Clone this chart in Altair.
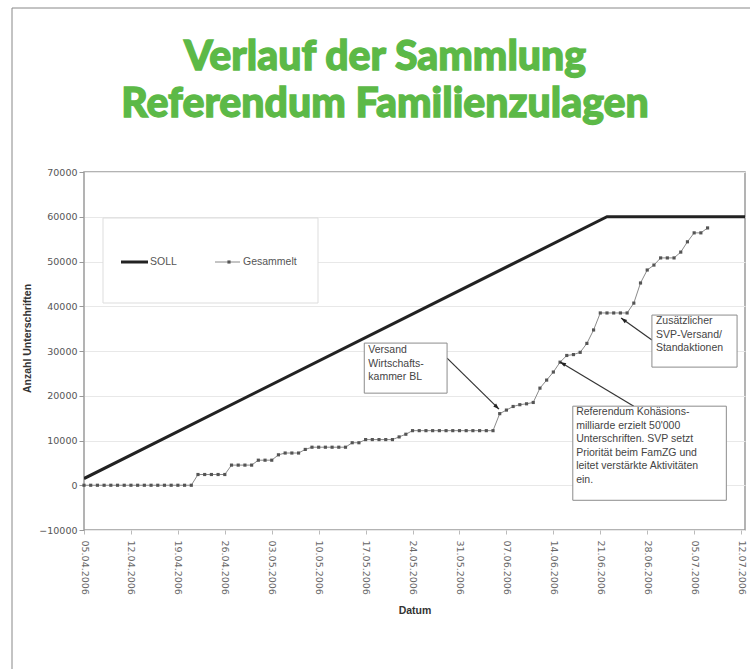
import altair as alt
import pandas as pd

# ---------------- data ----------------
start_date = "2006-04-05"

# "Gesammelt" – cumulative signatures, one value per day starting 05.04.2006
gesammelt = [
    0, 0, 0, 0, 0, 0, 0, 0, 0, 0, 0, 0, 0, 0, 0, 0, 0,
    2400, 2400, 2400, 2400, 2400,
    4500, 4500, 4500, 4500,
    5600, 5600, 5600,
    6800, 7200, 7200, 7200,
    8000, 8500, 8500, 8500, 8500, 8500, 8500,
    9500, 9500,
    10200, 10200, 10200, 10200, 10200,
    10800, 11400,
    12200, 12200, 12200, 12200, 12200, 12200, 12200, 12200, 12200, 12200, 12200, 12200, 12200,
    16000, 16800, 17600, 18000, 18200, 18500,
    21700, 23500, 25300, 27500,
    29000, 29200, 29700, 31700, 34700,
    38500, 38500, 38500, 38500, 38500,
    40700, 45200, 48100, 49200,
    50800, 50800, 50800,
    52100, 54400, 56400, 56400, 57500,
]

# "SOLL" – target line
soll_dates = ["2006-04-05", "2006-06-22", "2006-07-13"]
soll_values = [1500, 60000, 60000]

# axis ticks
x_tick_dates = ["2006-04-05", "2006-04-12", "2006-04-19", "2006-04-26", "2006-05-03",
                "2006-05-10", "2006-05-17", "2006-05-24", "2006-05-31", "2006-06-07",
                "2006-06-14", "2006-06-21", "2006-06-28", "2006-07-05", "2006-07-12"]
y_ticks = [-10000, 0, 10000, 20000, 30000, 40000, 50000, 60000, 70000]

title_lines = ["Verlauf der Sammlung", "Referendum Familienzulagen"]
legend_labels = ["SOLL", "Gesammelt"]

# annotations (day offset from start, value)
ann_texts = [
    "Versand\nWirtschafts-\nkammer BL",
    "Referendum Kohäsions-\nmilliarde erzielt 50'000\nUnterschriften. SVP setzt\nPriorität beim FamZG und\nleitet verstärkte Aktivitäten\nein.",
    "Zusätzlicher\nSVP-Versand/\nStandaktionen",
]
ann_text_day = [42.4, 73.4, 85.3]
ann_text_val = [31300, 17450, 37810]
box_day1 = [41.8, 72.9, 84.7]
box_day2 = [54.15, 95.8, 97.4]
box_val1 = [31770, 17670, 38030]
box_val2 = [20580, -3360, 26400]
arrow_tail_day = [54.15, 82.0, 84.7]
arrow_tail_val = [28410, 17670, 32440]
arrow_tip_day = [61.9, 71.0, 80.1]
arrow_tip_val = [17000, 27520, 37360]
arrow_angle = [134, 300, 306]

# ---------------- tables ----------------
base = pd.Timestamp(start_date)


def ts(day):
    return (base + pd.Timedelta(days=day)).strftime("%Y-%m-%dT%H:%M:%SZ")


df_g = pd.DataFrame({
    "date": pd.date_range(start_date, periods=len(gesammelt), freq="D").strftime("%Y-%m-%d"),
    "value": gesammelt,
})
df_s = pd.DataFrame({"date": soll_dates, "value": soll_values})
df_box = pd.DataFrame({
    "date": [ts(d) for d in box_day1], "d2": [ts(d) for d in box_day2],
    "value": box_val1, "v2": box_val2,
})
df_txt = pd.DataFrame({"date": [ts(d) for d in ann_text_day], "value": ann_text_val, "text": ann_texts})
df_arr = pd.DataFrame({
    "date": [ts(d) for d in arrow_tail_day], "d2": [ts(d) for d in arrow_tip_day],
    "value": arrow_tail_val, "v2": arrow_tip_val, "angle": arrow_angle,
})


def dt(s):
    t = pd.Timestamp(s)
    return alt.DateTime(year=t.year, month=t.month, date=t.day, utc=True)


x_scale = alt.Scale(type="utc", domain=[dt("2006-04-05"),
                                        alt.DateTime(year=2006, month=7, date=12, hours=14, utc=True)])
y_scale = alt.Scale(domain=[-10000, 70000], nice=False)

x_axis = alt.Axis(values=[dt(s) for s in x_tick_dates], format="%d.%m.%Y", labelAngle=90,
                  grid=False, domain=False, tickSize=4, tickColor="#bbbbbb", labelPadding=6,
                  labelOverlap=False, labelFlush=False, title="Datum", titleY=80,
                  titleBaseline="middle", labelColor="#666666")
y_axis = alt.Axis(values=y_ticks, format="d", grid=True, gridColor="#e8e8e8", domain=False,
                  tickSize=5, tickColor="#999999", labelPadding=2,
                  title="Anzahl Unterschriften", titleX=-57, titleY=166, titleAngle=270,
                  titleAlign="center", titleBaseline="middle")


def X(field):
    return alt.X(field, type="temporal", scale=x_scale, axis=x_axis)


def Y(field):
    return alt.Y(field, type="quantitative", scale=y_scale, axis=y_axis)


# ---------------- layers ----------------
soll = alt.Chart(df_s).mark_line(color="#222222", strokeWidth=3, clip=True).encode(
    x=X("date"), y=Y("value"))

ges_line = alt.Chart(df_g).mark_line(color="#8a8a8a", strokeWidth=1).encode(
    x=X("date"), y=Y("value"))
ges_pts = alt.Chart(df_g).mark_point(shape="square", filled=True, size=10, color="#555555",
                                     opacity=1).encode(x=X("date"), y=Y("value"))

arrows = alt.Chart(df_arr).mark_rule(color="#333333", strokeWidth=1.2).encode(
    x=X("date"), x2="d2:T", y=Y("value"), y2="v2:Q")
heads = alt.Chart(df_arr).mark_point(shape="M0,0L-0.6,1.8L0.6,1.8Z", filled=True, size=45,
                                     color="#222222", opacity=1).encode(
    x=X("d2"), y=Y("v2"), angle=alt.Angle("angle:Q", scale=None))

boxes = alt.Chart(df_box).mark_rect(fill="white", stroke="#8c8c8c", strokeWidth=1).encode(
    x=X("date"), x2="d2:T", y=Y("value"), y2="v2:Q")
texts = alt.Chart(df_txt).mark_text(align="left", baseline="top", font="Liberation Sans",
                                    fontSize=10.5, lineHeight=13.5, lineBreak="\n",
                                    color="#444444").encode(
    x=X("date"), y=Y("value"), text="text:N")

# legend (decoration, in pixel space of the plot area)
one = pd.DataFrame({"k": [0]})
leg_box = alt.Chart(one).mark_rect(fill="white", stroke="#dddddd", strokeWidth=1).encode(
    x=alt.value(19), x2=alt.value(234), y=alt.value(46), y2=alt.value(131))
leg_soll = alt.Chart(one).mark_rule(color="#222222", strokeWidth=3).encode(
    x=alt.value(37), x2=alt.value(64), y=alt.value(90))
leg_ges = alt.Chart(one).mark_rule(color="#8a8a8a", strokeWidth=1).encode(
    x=alt.value(131), x2=alt.value(156), y=alt.value(90))
leg_pt = alt.Chart(one).mark_point(shape="square", filled=True, size=10, color="#555555",
                                   opacity=1).encode(x=alt.value(145), y=alt.value(90))
leg_txt = alt.Chart(pd.DataFrame({"label": legend_labels, "px": [66, 159]})).mark_text(
    align="left", baseline="middle", font="Liberation Sans", fontSize=10.5,
    color="#555555").encode(x=alt.X("px:Q", scale=None), y=alt.value(90), text="label:N")

title = alt.Chart(pd.DataFrame({"t": ["\n".join(title_lines)]})).mark_text(
    align="center", baseline="alphabetic", font="Lato", fontSize=41, fontWeight=900,
    lineBreak="\n", lineHeight=47,
    color="#5cb947", stroke="#5cb947", strokeWidth=1.3).encode(
    x=alt.value(301), y=alt.value(-102), text="t:N")

frame_left = alt.Chart(one).mark_rule(color="#888888", strokeWidth=1).encode(
    x=alt.value(-72), y=alt.value(-164), y2=alt.value(497))
frame_top = alt.Chart(one).mark_rule(color="#888888", strokeWidth=1).encode(
    x=alt.value(-72), x2=alt.value(666), y=alt.value(-164))

chart = alt.layer(
    soll, leg_box, ges_line, ges_pts, arrows, boxes, texts, heads,
    leg_soll, leg_ges, leg_pt, leg_txt, title, frame_left, frame_top,
).properties(
    width=661, height=358,
    autosize=alt.AutoSizeParams(type="none"),
    padding={"left": 84, "top": 172, "right": 5, "bottom": 139},
    background="white",
).configure_view(
    stroke="#9a9a9a", strokeWidth=1.5,
).configure_axis(
    labelFont="DejaVu Sans", labelFontSize=9.5, labelColor="#555555",
    titleFont="Liberation Sans", titleFontSize=10.5, titleFontWeight="bold", titleColor="#333333",
)

chart.save("out.html", embed_options={"renderer": "svg", "actions": False})
